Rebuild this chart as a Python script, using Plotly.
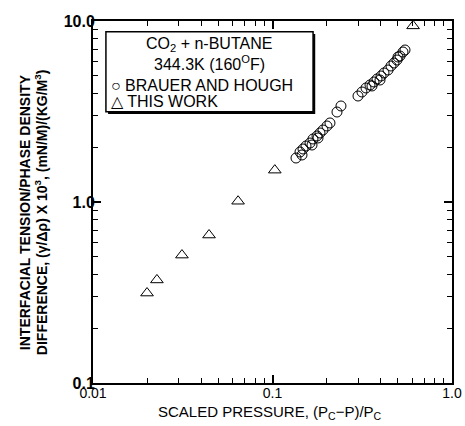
import plotly.graph_objects as go

# Brauer and Hough (circles)
bh_x = [0.1352, 0.1423, 0.1460, 0.1479, 0.1537, 0.1618, 0.1660, 0.1681, 0.1770, 0.1793,
        0.1839, 0.1911, 0.2012, 0.2090, 0.2287, 0.2407,
        0.2995, 0.3151, 0.3318, 0.3493, 0.3583, 0.3677, 0.3822, 0.3971, 0.4023, 0.4180,
        0.4401, 0.4573, 0.4752, 0.4938, 0.5002, 0.5132, 0.5333, 0.5472]
bh_y = [1.750, 1.889, 1.819, 1.963, 2.039, 2.118, 2.065, 2.229, 2.316, 2.258,
        2.406, 2.499, 2.630, 2.733, 3.142, 3.392,
        3.851, 4.053, 4.265, 4.431, 4.375, 4.603, 4.782, 4.721, 4.968, 5.161,
        5.362, 5.642, 5.861, 6.088, 6.326, 6.406, 6.741, 6.916]

# This work (triangles)
tw_x = [0.0200, 0.0227, 0.0313, 0.0443, 0.0643, 0.103, 0.607]
tw_y = [0.314, 0.371, 0.509, 0.657, 1.01, 1.50, 9.4]

x_tickvals = [0.01, 0.1, 1.0]
x_ticktext = ["0.01", "0.1", "1.0"]
y_tickvals = [0.1, 1.0, 10.0]
y_ticktext = ["<b>0.1</b>", "<b>1.0</b>", "<b>10.0</b>"]
minor_vals = [m * 10 ** e for e in (-2, -1, 0) for m in range(2, 10)]

FONT = "Liberation Sans"

fig = go.Figure()
fig.add_trace(go.Scatter(
    x=bh_x, y=bh_y, mode="markers", name="BRAUER AND HOUGH",
    marker=dict(symbol="circle-open", size=10, color="black", line=dict(width=1)),
))
fig.add_trace(go.Scatter(
    x=tw_x, y=tw_y, mode="markers", name="THIS WORK",
    marker=dict(symbol="triangle-up-open", size=11, color="black", line=dict(width=1)),
))

axis_common = dict(
    type="log", showgrid=False, zeroline=False, automargin=False,
    showline=True, linecolor="black", linewidth=2, mirror="ticks",
    ticks="inside", ticklen=8, tickwidth=1.5, tickcolor="black",
    tickmode="array",
)
fig.update_xaxes(
    **axis_common, range=[-2, 0], tickvals=x_tickvals, ticktext=x_ticktext,
    tickfont=dict(family=FONT, size=14, color="black"),
    ticklabelstandoff=-4,
    minor=dict(ticks="inside", ticklen=5, tickwidth=1, tickcolor="black",
               tickmode="array", tickvals=minor_vals),
)
fig.update_yaxes(
    **axis_common, range=[-1, 1], tickvals=y_tickvals, ticktext=y_ticktext,
    tickfont=dict(family=FONT, size=16, color="black"),
    ticklabelstandoff=-7,
    minor=dict(ticks="inside", ticklen=5, tickwidth=1, tickcolor="black",
               tickmode="array", tickvals=minor_vals),
)

# Legend box with drop shadow
x0, x1, y0, y1 = 0.036, 0.613, 0.749, 0.970
fig.add_shape(type="rect", xref="paper", yref="paper",
              x0=x0 + 0.006, x1=x1 + 0.006, y0=y0 - 0.006, y1=y1 - 0.006,
              fillcolor="black", line=dict(width=0), layer="above")
fig.add_shape(type="rect", xref="paper", yref="paper",
              x0=x0, x1=x1, y0=y0, y1=y1,
              fillcolor="white", line=dict(color="black", width=1.5), layer="above")

ann_font = dict(family=FONT, size=16, color="black")
fig.add_annotation(xref="paper", yref="paper", x=(x0 + x1) / 2, y=0.936,
                   text="CO<sub>2</sub> + n-BUTANE", showarrow=False,
                   xanchor="center", yanchor="middle", font=ann_font)
fig.add_annotation(xref="paper", yref="paper", x=(x0 + x1) / 2, y=0.884,
                   text="344.3K (160<sup>O</sup>F)", showarrow=False,
                   xanchor="center", yanchor="middle", font=ann_font)
fig.add_annotation(xref="paper", yref="paper", x=x0 + 0.008, y=0.822,
                   text="○ BRAUER AND HOUGH", showarrow=False,
                   xanchor="left", yanchor="middle", font=ann_font)
fig.add_annotation(xref="paper", yref="paper", x=x0 + 0.008, y=0.779,
                   text="△ THIS WORK", showarrow=False,
                   xanchor="left", yanchor="middle", font=ann_font)

# Axis titles
ytitle_font = dict(family=FONT, size=14, color="black")
fig.add_annotation(xref="paper", yref="paper", x=-(93 - 25) / 359, y=0.472,
                   text="<b>INTERFACIAL TENSION/PHASE DENSITY</b>",
                   textangle=-90, showarrow=False, xanchor="center", yanchor="middle",
                   font=ytitle_font)
fig.add_annotation(xref="paper", yref="paper", x=-(93 - 41) / 359, y=0.472,
                   text="<b>DIFFERENCE, (γ/Δρ) X 10<sup>3</sup>, (mN/M)/(KG/M<sup>3</sup>)</b>",
                   textangle=-90, showarrow=False, xanchor="center", yanchor="middle",
                   font=ytitle_font)
fig.add_annotation(xref="paper", yref="paper", x=0.493, y=-0.082,
                   text="SCALED PRESSURE, (P<sub>C</sub>−P)/P<sub>C</sub>",
                   showarrow=False, xanchor="center", yanchor="middle",
                   font=dict(family=FONT, size=15, color="black"))

fig.update_layout(
    width=465, height=426,
    margin=dict(l=93, r=13, t=21, b=43),
    paper_bgcolor="white", plot_bgcolor="white",
    showlegend=False,
    font=dict(family=FONT, color="black"),
)

fig.write_html("out.html")
